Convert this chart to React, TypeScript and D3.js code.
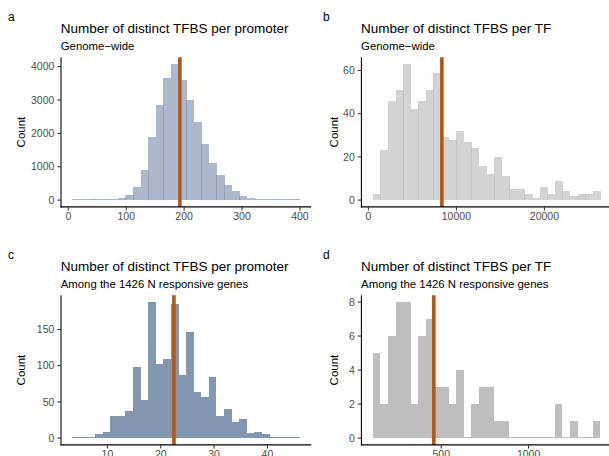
import React from 'react'
import * as d3 from 'd3'

const width = 609
const height = 456
const font = '"Liberation Sans", Arial, Helvetica, sans-serif'

// a: TFBS per promoter, genome-wide
const promoterGenomeBinStart = 7
const promoterGenomeBinWidth = 13.1
const promoterGenomeCounts = [15, 15, 10, 10, 10, 20, 70, 150, 390, 900, 1890, 2850, 3660, 4080, 3600,
  3000, 2340, 1680, 1110, 750, 450, 270, 130, 70, 30, 20, 15, 10, 10, 10]
const promoterGenomeMedian = 192.7
const promoterGenomeXTicks = [0, 100, 200, 300, 400]
const promoterGenomeYTicks = [0, 1000, 2000, 3000, 4000]

// b: TFBS per TF, genome-wide
const tfGenomeBinStart = 500
const tfGenomeBinWidth = 861.7
const tfGenomeCounts = [3, 23, 46, 51, 63, 42, 46, 51, 59, 29, 28, 32, 27, 24, 16,
  12, 20, 11, 5, 5, 3, 1, 6, 3, 9, 4, 2, 3, 3, 4]
const tfGenomeMedian = 8350
const tfGenomeXTicks = [0, 10000, 20000]
const tfGenomeYTicks = [0, 20, 40, 60]

// c: TFBS per promoter, N responsive genes
const promoterNBinStart = 3.43
const promoterNBinWidth = 1.422
const promoterNCounts = [1, 0, 0, 6, 9, 30, 30, 38, 98, 52, 188, 103, 109, 185, 87,
  147, 63, 57, 84, 31, 40, 22, 27, 7, 8, 5, 1, 0, 0, 1]
const promoterNMedian = 22.47
const promoterNXTicks = [10, 20, 30, 40]
const promoterNYTicks = [0, 50, 100, 150]

// d: TFBS per TF, N responsive genes
const tfNBinStart = 108
const tfNBinWidth = 43.43
const tfNCounts = [5, 2, 6, 8, 8, 2, 6, 7, 3, 3, 2, 4, 0, 2, 3,
  3, 1, 1, 0, 0, 0, 0, 0, 0, 2, 0, 1, 0, 0, 1]
const tfNMedian = 457.6
const tfNXTicks = [500, 1000]
const tfNYTicks = [0, 2, 4, 6, 8]

const titles = ['Number of distinct TFBS per promoter', 'Number of distinct TFBS per TF']
const subtitles = ['Genome\u2212wide', 'Among the 1426 N responsive genes']
const tags = ['a', 'b', 'c', 'd']

// layout
const colLeft = [61, 361.4]
const colAxisTitleX = [25, 338.3]
const colTagX = [8, 323]
const rowTop = [57.2, 295.2]
const panelW = 250.3
const panelH = 149.7
const tickLen = 3.7
const medianColor = '#B2571C'

type PanelProps = {
  tag: string,
  title: string,
  subtitle: string,
  binStart: number,
  binWidth: number,
  counts: number[],
  median: number,
  xTicks: number[],
  yTicks: number[],
  fill: string,
  opacity: number,
  col: number,
  row: number
}

function Panel(p: PanelProps) {
  const left = colLeft[p.col]
  const top = rowTop[p.row]
  const bottom = top + panelH
  const binEnd = p.binStart + p.binWidth * p.counts.length
  const pad = 0.05 * (binEnd - p.binStart)
  const x = d3.scaleLinear().domain([p.binStart - pad, binEnd + pad]).range([left, left + panelW])
  const maxCount = d3.max(p.counts) as number
  const y = d3.scaleLinear().domain([-0.05 * maxCount, 1.05 * maxCount]).range([bottom, top])
  const translucent = p.opacity < 1

  return (
    <g>
      <text x={colTagX[p.col]} y={top - 36.5} fontSize={12}>{p.tag}</text>
      <text x={left - 0.3} y={top - 24} fontSize={13.5}>{p.title}</text>
      <text x={left - 0.3} y={top - 7.2} fontSize={11.4}>{p.subtitle}</text>

      <g shapeRendering="crispEdges">
        {p.counts.map((c, i) => {
          const x0 = x(p.binStart + i * p.binWidth)
          const x1 = x(p.binStart + (i + 1) * p.binWidth)
          const h = Math.max(y(0) - y(c), 1)
          return (
            <rect key={i} x={x0} y={y(0) - h} width={x1 - x0 + (translucent ? 0.5 : 0)} height={h}
              fill={p.fill} fillOpacity={p.opacity} />
          )
        })}
      </g>

      <line x1={x(p.median)} x2={x(p.median)} y1={top} y2={bottom}
        stroke={medianColor} strokeWidth={3.6} />

      <line x1={left} x2={left} y1={top} y2={bottom + 0.5} stroke="#000" strokeWidth={1.07} />
      <line x1={left - 0.5} x2={left + panelW} y1={bottom} y2={bottom} stroke="#000" strokeWidth={1.07} />

      {p.yTicks.map(t => (
        <g key={'y' + t}>
          <line x1={left - tickLen} x2={left} y1={y(t)} y2={y(t)} stroke="#333" strokeWidth={1.07} />
          <text x={left - tickLen - 2.9} y={y(t)} dy="0.35em" textAnchor="end" fontSize={10.5} fill="#4D4D4D">{t}</text>
        </g>
      ))}
      {p.xTicks.map(t => (
        <g key={'x' + t}>
          <line x1={x(t)} x2={x(t)} y1={bottom} y2={bottom + tickLen} stroke="#333" strokeWidth={1.07} />
          <text x={x(t)} y={bottom + 13.5} textAnchor="middle" fontSize={10.5} fill="#4D4D4D">{t}</text>
        </g>
      ))}

      <text transform={`translate(${colAxisTitleX[p.col]},${top + panelH / 2}) rotate(-90)`}
        textAnchor="middle" fontSize={11.5}>Count</text>
    </g>
  )
}

export default function App() {
  return (
    <svg width={width} height={height} fontFamily={font}
      style={{ position: 'absolute', left: 0, top: 0, background: '#fff' }}>
      <Panel tag={tags[0]} title={titles[0]} subtitle={subtitles[0]}
        binStart={promoterGenomeBinStart} binWidth={promoterGenomeBinWidth} counts={promoterGenomeCounts}
        median={promoterGenomeMedian} xTicks={promoterGenomeXTicks} yTicks={promoterGenomeYTicks}
        fill="#8497B0" opacity={0.67} col={0} row={0} />
      <Panel tag={tags[1]} title={titles[1]} subtitle={subtitles[0]}
        binStart={tfGenomeBinStart} binWidth={tfGenomeBinWidth} counts={tfGenomeCounts}
        median={tfGenomeMedian} xTicks={tfGenomeXTicks} yTicks={tfGenomeYTicks}
        fill="#BEBEBE" opacity={0.67} col={1} row={0} />
      <Panel tag={tags[2]} title={titles[0]} subtitle={subtitles[1]}
        binStart={promoterNBinStart} binWidth={promoterNBinWidth} counts={promoterNCounts}
        median={promoterNMedian} xTicks={promoterNXTicks} yTicks={promoterNYTicks}
        fill="#8497B0" opacity={1} col={0} row={1} />
      <Panel tag={tags[3]} title={titles[1]} subtitle={subtitles[1]}
        binStart={tfNBinStart} binWidth={tfNBinWidth} counts={tfNCounts}
        median={tfNMedian} xTicks={tfNXTicks} yTicks={tfNYTicks}
        fill="#BEBEBE" opacity={1} col={1} row={1} />
    </svg>
  )
}
